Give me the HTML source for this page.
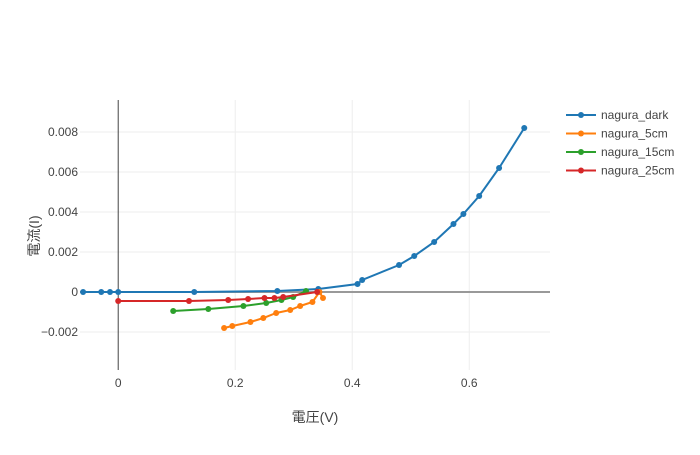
<!DOCTYPE html>
<html><head><meta charset="utf-8"><style>
body{margin:0;background:#fff}
svg text{font-family:"Liberation Sans","Noto Sans CJK JP",sans-serif;fill:#444}
</style></head><body>
<svg id="chart" width="700" height="450" xmlns="http://www.w3.org/2000/svg">
<g id="grid"></g>
<g id="axes"></g>
<g id="series"></g>
<g id="legend"></g>
<text x="315" y="422" text-anchor="middle" font-size="14">電圧(V)</text>
<text transform="translate(39,236) rotate(-90)" text-anchor="middle" font-size="14">電流(I)</text>
</svg>
<script>
const xTicks=[0,0.2,0.4,0.6];
const xTickLabels=["0","0.2","0.4","0.6"];
const yTicks=[-0.002,0,0.002,0.004,0.006,0.008];
const yTickLabels=["−0.002","0","0.002","0.004","0.006","0.008"];
const seriesNames=["nagura_dark","nagura_5cm","nagura_15cm","nagura_25cm"];
const seriesColors=["#1f77b4","#ff7f0e","#2ca02c","#d62728"];
const darkX=[-0.060,-0.029,-0.014,0,0.130,0.272,0.342,0.409,0.417,0.480,0.506,0.540,0.573,0.590,0.617,0.651,0.694];
const darkY=[0,0,0,0,0,0.00005,0.00015,0.0004,0.0006,0.00135,0.0018,0.0025,0.0034,0.0039,0.0048,0.0062,0.0082];
const cm5X=[0.181,0.195,0.226,0.248,0.270,0.294,0.311,0.332,0.344,0.350];
const cm5Y=[-0.0018,-0.0017,-0.0015,-0.0013,-0.00105,-0.0009,-0.0007,-0.0005,0,-0.0003];
const cm15X=[0.094,0.154,0.214,0.253,0.279,0.299,0.321];
const cm15Y=[-0.00095,-0.00085,-0.0007,-0.00055,-0.0004,-0.00025,0.00005];
const cm25X=[0,0.121,0.188,0.222,0.250,0.267,0.282,0.340];
const cm25Y=[-0.00045,-0.00045,-0.0004,-0.00035,-0.0003,-0.0003,-0.00025,0];
const allX=[darkX,cm5X,cm15X,cm25X], allY=[darkY,cm5Y,cm15Y,cm25Y];
const L=80,R=550,T=100,B=370;
const x0=-0.0653,x1=0.738,y0=-0.0039,y1=0.0096;
const sx=v=>L+(v-x0)/(x1-x0)*(R-L);
const sy=v=>B-(v-y0)/(y1-y0)*(B-T);
const NS="http://www.w3.org/2000/svg";
function mk(tag,attrs,parent){const e=document.createElementNS(NS,tag);for(const k in attrs)e.setAttribute(k,attrs[k]);parent.appendChild(e);return e;}
const grid=document.getElementById('grid'),axes=document.getElementById('axes'),ser=document.getElementById('series'),leg=document.getElementById('legend');
xTicks.forEach((t,i)=>{
  if(t!==0){const g=mk('line',{x1:sx(t),x2:sx(t),y1:T,y2:B,stroke:'#eee','stroke-width':1},grid);
  
  }
  const tx=mk('text',{x:sx(t),y:B+17,'text-anchor':'middle','font-size':12},axes);tx.textContent=xTickLabels[i];
  
  
});
yTicks.forEach((t,i)=>{
  if(t!==0){const g=mk('line',{x1:L,x2:R,y1:sy(t),y2:sy(t),stroke:'#eee','stroke-width':1},grid);
  
  }
  const tx=mk('text',{x:L-2,y:sy(t)+4,'text-anchor':'end','font-size':12},axes);tx.textContent=yTickLabels[i];
  
  
});
const zx=mk('line',{x1:L,x2:R,y1:sy(0),y2:sy(0),stroke:'#999','stroke-width':2},axes);


const zy=mk('line',{x1:sx(0),x2:sx(0),y1:T,y2:B,stroke:'#444','stroke-width':1},axes);


allX.forEach((xs,s)=>{
  const g=mk('g',{},ser);
  
  
  const pts=xs.map((v,i)=>sx(v)+','+sy(allY[s][i])).join(' ');
  const pl=mk('polyline',{points:pts,fill:'none',stroke:seriesColors[s],'stroke-width':2},g);
  
  
  xs.forEach((v,i)=>{const c=mk('circle',{cx:sx(v),cy:sy(allY[s][i]),r:3,fill:seriesColors[s]},g);
    
    });
  const ly=115+s*18.5;
  const lg=mk('g',{},leg);
  
  
  mk('line',{x1:566,x2:596,y1:ly,y2:ly,stroke:seriesColors[s],'stroke-width':2},lg);
  mk('circle',{cx:581,cy:ly,r:3,fill:seriesColors[s]},lg);
  const t=mk('text',{x:601,y:ly+4,'font-size':12},lg);t.textContent=seriesNames[s];
});
</script>
</body></html>
